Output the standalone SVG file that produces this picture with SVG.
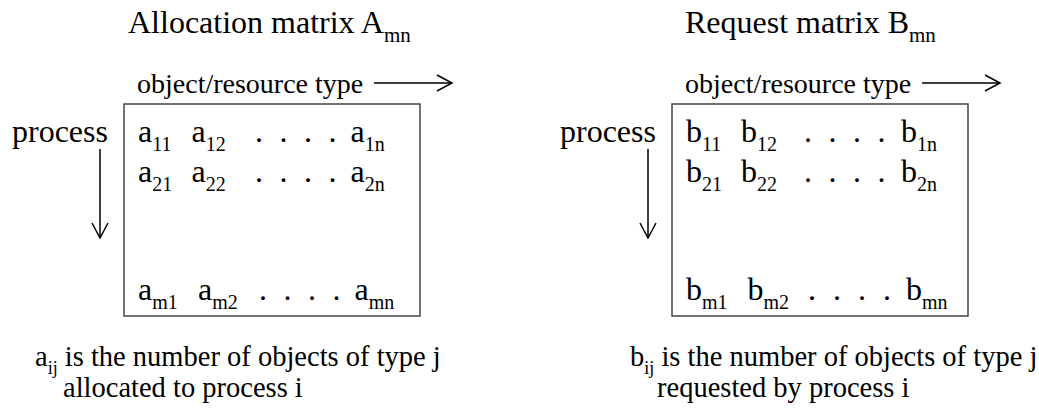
<svg xmlns="http://www.w3.org/2000/svg" width="1039" height="409" viewBox="0 0 1039 409">
<style>
text{font-family:"Liberation Serif","Times New Roman","DejaVu Serif",serif;fill:#000}
.t{font-size:32px}
.h{font-size:28px}
.p{font-size:32px}
.m{font-size:32px}
.b{font-size:28.5px}
.st{font-size:21px}
.s{font-size:20px}
.sb{font-size:18px}
.box{fill:none;stroke:#444;stroke-width:1.5}
.ln{fill:none;stroke:#000;stroke-width:1.5}
</style>
<defs>
<marker id="ah" markerWidth="18" markerHeight="20" refX="16" refY="10" orient="auto" markerUnits="userSpaceOnUse">
<path d="M1,2 L16,10 L1,18" fill="none" stroke="#000" stroke-width="1.5"/>
</marker>
</defs>
<rect width="1039" height="409" fill="#fff"/>
<g id="matrixA">
<text class="t" x="128" y="33">Allocation matrix A<tspan class="st" dy="9">mn</tspan></text>
<text class="h" x="137" y="93">object/resource type</text>
<text class="p" x="12" y="142">process</text>
<rect class="box" x="124" y="104" width="296" height="212"/>
<text class="m" x="138" y="142">a<tspan class="s" dy="9">11</tspan></text>
<text class="m" x="191.5" y="142">a<tspan class="s" dy="9">12</tspan></text>
<text class="m" x="255" y="142">.</text><text class="m" x="279.5" y="142">.</text><text class="m" x="304" y="142">.</text><text class="m" x="328.5" y="142">.</text>
<text class="m" x="350.5" y="142">a<tspan class="s" dy="9">1n</tspan></text>
<text class="m" x="138" y="182">a<tspan class="s" dy="9">21</tspan></text>
<text class="m" x="191.5" y="182">a<tspan class="s" dy="9">22</tspan></text>
<text class="m" x="255" y="182">.</text><text class="m" x="279.5" y="182">.</text><text class="m" x="304" y="182">.</text><text class="m" x="328.5" y="182">.</text>
<text class="m" x="350.5" y="182">a<tspan class="s" dy="9">2n</tspan></text>
<text class="m" x="138" y="300">a<tspan class="s" dy="9">m1</tspan></text>
<text class="m" x="198" y="300">a<tspan class="s" dy="9">m2</tspan></text>
<text class="m" x="259" y="300">.</text><text class="m" x="283.5" y="300">.</text><text class="m" x="308" y="300">.</text><text class="m" x="332.5" y="300">.</text>
<text class="m" x="354.5" y="300">a<tspan class="s" dy="9">mn</tspan></text>
<text class="b" x="35" y="366">a<tspan class="sb" dy="8">ij</tspan><tspan dy="-8"> is the number of objects of type j</tspan></text>
<text class="b" x="63" y="397">allocated to process i</text>
</g>
<g id="matrixB">
<text class="t" x="685" y="33">Request matrix B<tspan class="st" dy="9">mn</tspan></text>
<text class="h" x="685" y="93">object/resource type</text>
<text class="p" x="560" y="142">process</text>
<rect class="box" x="672" y="104" width="296" height="212"/>
<text class="m" x="686" y="142">b<tspan class="s" dy="9">11</tspan></text>
<text class="m" x="741" y="142">b<tspan class="s" dy="9">12</tspan></text>
<text class="m" x="804" y="142">.</text><text class="m" x="828.5" y="142">.</text><text class="m" x="853" y="142">.</text><text class="m" x="877.5" y="142">.</text>
<text class="m" x="901" y="142">b<tspan class="s" dy="9">1n</tspan></text>
<text class="m" x="686" y="182">b<tspan class="s" dy="9">21</tspan></text>
<text class="m" x="741" y="182">b<tspan class="s" dy="9">22</tspan></text>
<text class="m" x="804" y="182">.</text><text class="m" x="828.5" y="182">.</text><text class="m" x="853" y="182">.</text><text class="m" x="877.5" y="182">.</text>
<text class="m" x="901" y="182">b<tspan class="s" dy="9">2n</tspan></text>
<text class="m" x="686" y="300">b<tspan class="s" dy="9">m1</tspan></text>
<text class="m" x="747.5" y="300">b<tspan class="s" dy="9">m2</tspan></text>
<text class="m" x="808" y="300">.</text><text class="m" x="833" y="300">.</text><text class="m" x="858" y="300">.</text><text class="m" x="883" y="300">.</text>
<text class="m" x="906" y="300">b<tspan class="s" dy="9">mn</tspan></text>
<text class="b" x="630" y="366">b<tspan class="sb" dy="8">ij</tspan><tspan dy="-8"> is the number of objects of type j</tspan></text>
<text class="b" x="657" y="397">requested by process i</text>
</g>
<g id="connectors">
<line class="ln" x1="374" y1="83" x2="452" y2="83" marker-end="url(#ah)"/>
<line class="ln" x1="100" y1="149" x2="100" y2="238" marker-end="url(#ah)"/>
<line class="ln" x1="922" y1="83" x2="1000" y2="83" marker-end="url(#ah)"/>
<line class="ln" x1="648" y1="149" x2="648" y2="238" marker-end="url(#ah)"/>
</g>
</svg>
